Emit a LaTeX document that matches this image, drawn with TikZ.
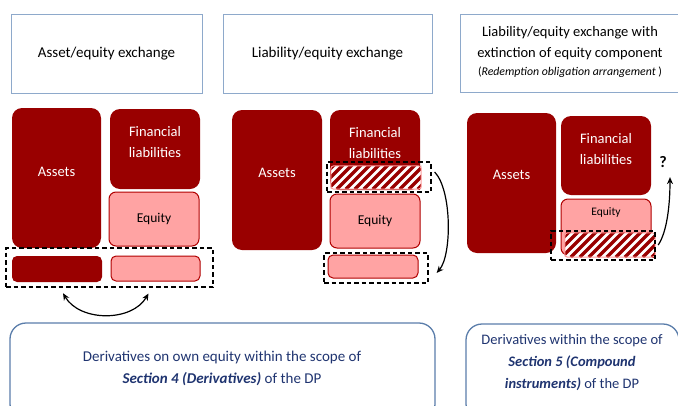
\documentclass[tikz,border=0pt]{standalone}
\usepackage{fontspec}
\setmainfont{Carlito}
\usetikzlibrary{arrows.meta}
\definecolor{darkred}{HTML}{990000}
\definecolor{eqpink}{HTML}{FFA3A3}
\definecolor{eqedge}{HTML}{B00000}
\definecolor{hatchedge}{HTML}{FF9B9B}
\definecolor{titleblue}{HTML}{8EA9CB}
\definecolor{scopeblue}{HTML}{5A7DAA}
\definecolor{navy}{HTML}{1F3470}
\tikzset{
  block/.style={fill=darkred, rounded corners=10pt, inner sep=0pt},
  eqbox/.style={fill=eqpink, draw=eqedge, line width=1pt, rounded corners=7pt, inner sep=0pt},
  hatchbox/.style={inner sep=0pt},
  titlebox/.style={draw=titleblue, line width=1pt, inner sep=0pt},
  dashbox/.style={draw, dash pattern=on 4.5pt off 3pt, line width=1.3pt, inner sep=0pt},
  scopebox/.style={draw=scopeblue, line width=1.3pt, rounded corners=16pt, inner sep=0pt},
  lbl/.style={text=white, align=center, font=\fontsize{14.5}{21}\selectfont},
  txt/.style={align=center, font=\fontsize{15}{22}\selectfont},
  swap/.style={line width=1.2pt},
}
% white box with dark red stripes
\newcommand\hatchfill[1]{%
  \fill[white] (#1.south west) rectangle (#1.north east);
  \begin{scope}
    \clip (#1.south west) rectangle (#1.north east);
    \foreach \k in {-30,-21,...,100}
      \draw[darkred, line width=3.5pt] ([xshift=\k pt]#1.south west) -- ++(30,-30);
  \end{scope}
  \draw[hatchedge, line width=1pt, rounded corners=3pt] (#1.south west) rectangle (#1.north east);}

\begin{document}
\begin{tikzpicture}[x=1pt, y=-1pt, >={Stealth[length=7pt,width=6pt]}]
\useasboundingbox (0,0) rectangle (678,405);

% asset/equity exchange
\node[titlebox, minimum width=191, minimum height=79] (title1) at (106.5,53.5) {};
\node[txt] at (title1.center) {Asset/equity exchange};
\node[block, minimum width=89, minimum height=140] (as1) at (56.5,178) {};
\node[lbl] at ([yshift=6pt]as1.center) {Assets};
\node[block, minimum width=90, minimum height=80] (fl1) at (155,149) {};
\node[lbl] at ([yshift=6.5pt]fl1.center) {Financial\\liabilities};
\node[eqbox, minimum width=90, minimum height=54] (eq1) at (154,219) {};
\node[font=\fontsize{13.5}{16}\selectfont] at (eq1.center) {Equity};
\node[dashbox, minimum width=207, minimum height=39] (dash1) at (109.5,267.5) {};
\node[block, rounded corners=5pt, minimum width=90, minimum height=26] (sd1) at (57,269) {};
\node[eqbox, rounded corners=5pt, minimum width=89, minimum height=25] (sp1) at (155.5,268.5) {};
\coordinate (swapL) at ([xshift=6pt,yshift=-11pt]sd1.south);
\coordinate (swapR) at ([xshift=-7pt,yshift=-12pt]sp1.south);
\draw[swap,<->] (swapL) .. controls (80,322) and (132,322) .. (swapR);

% liability/equity exchange
\node[titlebox, minimum width=209, minimum height=79] (title2) at (327.5,53.5) {};
\node[txt] at (title2.center) {Liability/equity exchange};
\node[block, minimum width=90, minimum height=140] (as2) at (277,180) {};
\node[lbl] at ([yshift=7pt]as2.center) {Assets};
\node[block, minimum width=90, minimum height=80] (fl2) at (375,150) {};
\node[lbl] at ([yshift=6.5pt]fl2.center) {Financial\\liabilities};
\node[hatchbox, minimum width=90, minimum height=23] (hat2) at (376,177.5) {};
\hatchfill{hat2}
\node[dashbox, minimum width=104, minimum height=30] (dash2a) at (379,177) {};
\node[eqbox, minimum width=90, minimum height=54] (eq2) at (375,221) {};
\node[font=\fontsize{13.5}{16}\selectfont] at (eq2.center) {Equity};
\node[eqbox, rounded corners=5pt, minimum width=90, minimum height=23] (sp2) at (373,266.5) {};
\node[dashbox, minimum width=104, minimum height=30] (dash2b) at (376,268) {};
\draw[swap,->] ([xshift=3pt,yshift=5pt]dash2a.east) .. controls (452,190) and (452,255) .. ([xshift=8pt,yshift=-5pt]dash2b.east);

% liability/equity exchange, equity component gone
\node[titlebox, minimum width=220, minimum height=78] (title3) at (570,53) {};
\node[txt, font=\fontsize{14.5}{21}\selectfont] at ([yshift=1pt]title3.center) {Liability/equity exchange with\\extinction of equity component\\[-3pt]
  {\fontsize{11.8}{13}\selectfont(\textit{Redemption obligation arrangement} )}};
\node[block, minimum width=89, minimum height=140] (as3) at (511.5,183) {};
\node[lbl] at ([yshift=8pt]as3.center) {Assets};
\node[block, minimum width=90, minimum height=79] (fl3) at (606,155.5) {};
\node[lbl] at ([yshift=6.5pt]fl3.center) {Financial\\liabilities};
\node[eqbox, minimum width=90, minimum height=56] (eq3) at (606,227) {};
\node[font=\fontsize{11.5}{14}\selectfont] at (606,212) {Equity};
\node[hatchbox, minimum width=90, minimum height=24] (hat3) at (610,245) {};
\hatchfill{hat3}
\node[dashbox, minimum width=104, minimum height=29] (dash3) at (603,245.5) {};
\node[font=\fontsize{16}{18}\selectfont\bfseries] (q) at (663,162) {?};
\coordinate (qfoot) at ([xshift=7pt,yshift=-6pt]q.south);
\draw[swap,->] ([xshift=3pt]hat3.east) .. controls (667,232) and (670,205) .. (qfoot);

% scope boxes
\node[scopebox, minimum width=425, minimum height=97] (scope1) at (222.5,371.5) {};
\node[txt, text=navy] at (222,368) {Derivatives on own equity within the scope of\\
  \textbf{\textit{Section 4 (Derivatives)}} of the DP};
\node[scopebox, minimum width=213, minimum height=96] (scope2) at (572.5,372) {};
\node[txt, font=\fontsize{14.5}{22}\selectfont, text=navy] at (572,363) {Derivatives within the scope of\\
  \textbf{\textit{Section 5 (Compound}}\\\textbf{\textit{instruments)}} of the DP};
\end{tikzpicture}
\end{document}
